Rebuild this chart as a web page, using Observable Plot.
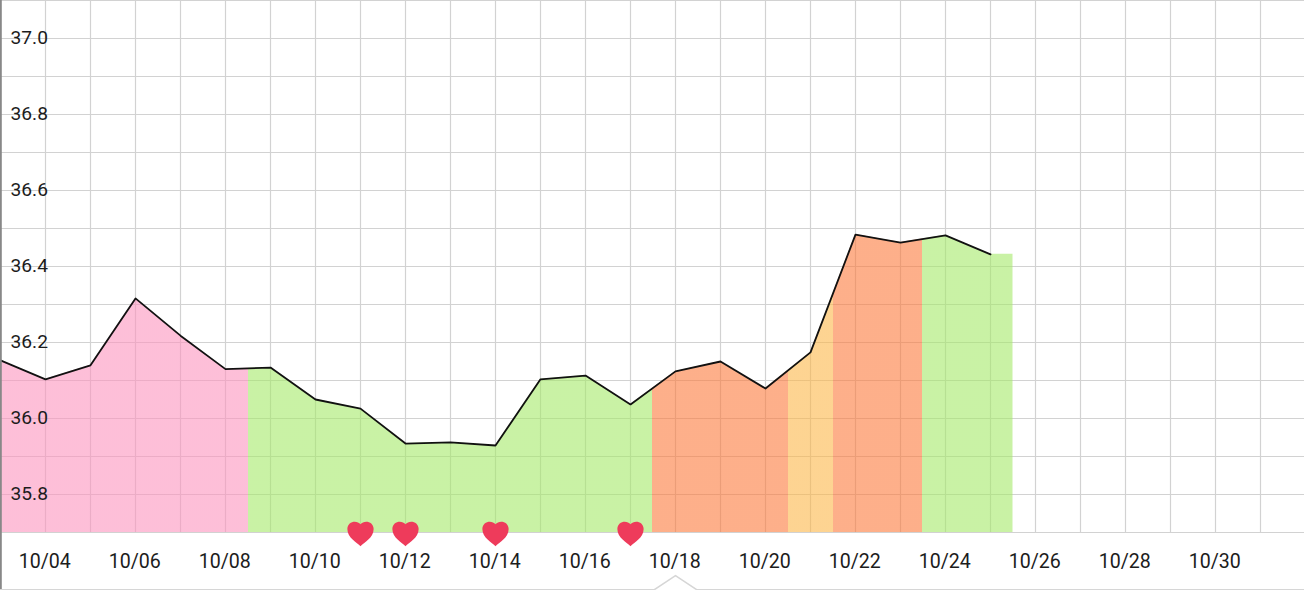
<!DOCTYPE html>
<html>
<head>
<meta charset="utf-8">
<script src="https://cdn.jsdelivr.net/npm/d3@7"></script>
<script src="https://cdn.jsdelivr.net/npm/@observablehq/plot@0.6"></script>
<style>
html,body{margin:0;padding:0;background:#fff}
svg{display:block}
</style>
</head>
<body>
<div id="chart"></div>
<script>
// Data, by day of October
const days = [3,4,5,6,7,8,9,10,11,12,13,14,15,16,17,18,19,20,21,22,23,24,25];
const temps = [36.153,36.103,36.14,36.316,36.218,36.13,36.134,36.05,36.026,35.934,35.937,35.929,36.103,36.113,36.037,36.124,36.15,36.079,36.174,36.484,36.463,36.482,36.432];
const fillEndDay = 25.5;
const heartDays = [11,12,14,17];
const yTicks = [35.8,36.0,36.2,36.4,36.6,36.8,37.0];
const xTickDays = [4,6,8,10,12,14,16,18,20,22,24,26,28,30];
const hGrid = [35.7,35.8,35.9,36.0,36.1,36.2,36.3,36.4,36.5,36.6,36.7,36.8,36.9,37.0,37.1];
const vGrid = [4,5,6,7,8,9,10,11,12,13,14,15,16,17,18,19,20,21,22,23,24,25,26,27,28,29,30,31];
const bandEnds = [8.5,17.5,20.5,21.5,23.5,25.5];
const bandColors = ["#fc94be","#a5e969","#fc7a3c","#fcb749","#fc7a3c","#a5e969"];
const notchDays = [3,17.53,18,18.47,31.98];
const notchTemps = [35.5495,35.5495,35.5865,35.5495,35.5495];

const date = d => new Date(Date.UTC(2014,9,1) + (d-1)*864e5);
const rows = days.map((d,i)=>({x:date(d),y:temps[i]}));
const areaRows = rows.concat([{x:date(fillEndDay),y:temps[temps.length-1]}]);
const domainX = [date(3),date(3+1304/45)];
const yTop = 37.1, yBase = 35.7, yBottom = 35.7-58/380;

function bandGradient(index, scales, values, dimensions){
  const ns = "http://www.w3.org/2000/svg";
  const defs = document.createElementNS(ns,"defs");
  const g = document.createElementNS(ns,"linearGradient");
  g.setAttribute("id","bands");
  g.setAttribute("gradientUnits","userSpaceOnUse");
  g.setAttribute("x1",0); g.setAttribute("x2",dimensions.width);
  g.setAttribute("y1",0); g.setAttribute("y2",0);
  let start = 0;
  bandEnds.forEach((e,i)=>{
    const off = scales.x(date(e))/dimensions.width;
    for (const o of [start,off]){
      const s = document.createElementNS(ns,"stop");
      s.setAttribute("offset",o);
      s.setAttribute("stop-color",bandColors[i]);
      g.appendChild(s);
    }
    start = off;
  });
  defs.appendChild(g);
  return defs;
}

const heart = {draw(c,size){
  const s = Math.sqrt(size)/2;
  c.moveTo(0,s*1.1);
  c.bezierCurveTo(-s*0.3,s*0.8,-s*1.14,s*0.4,-s*1.14,-s*0.38);
  c.bezierCurveTo(-s*1.14,-s*1.08,-s*0.3,-s*1.2,0,-s*0.8);
  c.bezierCurveTo(s*0.3,-s*1.2,s*1.14,-s*1.08,s*1.14,-s*0.38);
  c.bezierCurveTo(s*1.14,s*0.4,s*0.3,s*0.8,0,s*1.1);
  c.closePath();
}};

const plot = Plot.plot({
  width:1304,height:590,
  marginTop:0,marginRight:0,marginBottom:58,marginLeft:0,
  style:{background:"#fff",fontFamily:"Roboto, sans-serif"},
  x:{type:"utc",domain:domainX,range:[0,1304],axis:null},
  y:{domain:[yTop,yBase],range:[0,532],axis:null},
  marks:[
    bandGradient,
    Plot.ruleY(hGrid,{x1:domainX[0],x2:domainX[1],stroke:"#d2d2d2",strokeWidth:1.2}),
    Plot.ruleX(vGrid.map(date),{y1:yTop,y2:yBase,stroke:"#d2d2d2",strokeWidth:1.2}),
    Plot.areaY(areaRows,{x:"x",y1:yBase,y2:"y",fill:"url(#bands)",fillOpacity:0.6}),
    Plot.line(rows,{x:"x",y:"y",stroke:"#111",strokeWidth:1.8}),
    Plot.ruleX([domainX[0]],{y1:yTop,y2:yBottom,stroke:"#888",strokeWidth:2.6}),
    Plot.line(notchDays.map((d,i)=>({x:date(d),y:notchTemps[i]})),{x:"x",y:"y",stroke:"#d6d6d6",strokeWidth:1.5}),
    Plot.dot(heartDays.map(date),{x:d=>d,y:()=>yBase,dy:1,r:13,symbol:heart,fill:"#ee3b5b",stroke:"none"}),
    Plot.text(yTicks,{x:()=>domainX[0],y:d=>d,text:d=>d.toFixed(1),textAnchor:"start",dx:10,dy:-1,fontSize:19.2,fill:"#1c1c1c"}),
    Plot.text(xTickDays,{x:date,y:()=>yBase,text:d=>"10/"+String(d).padStart(2,"0"),dx:-0.8,dy:29,fontSize:19.6,fill:"#1c1c1c"})
  ]
});
document.getElementById("chart").appendChild(plot);
</script>
</body>
</html>
